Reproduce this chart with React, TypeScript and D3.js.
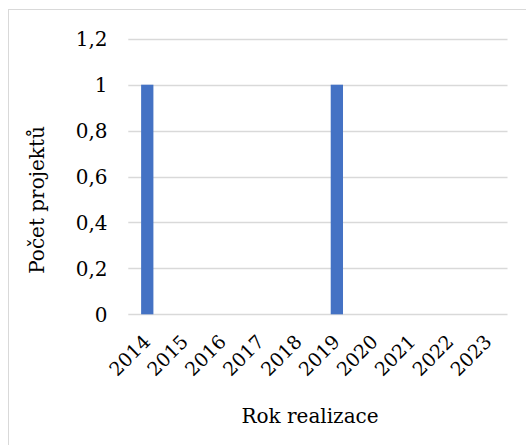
import React from "react";
import * as d3 from "d3";

const years = ["2014", "2015", "2016", "2017", "2018", "2019", "2020", "2021", "2022", "2023"];
const counts = [1, 0, 0, 0, 0, 1, 0, 0, 0, 0];
const yTicks = [0, 0.2, 0.4, 0.6, 0.8, 1, 1.2];
const yTitle = "Počet projektů";
const xTitle = "Rok realizace";

const W = 526;
const H = 445;
const plot = { left: 128.3, right: 507.5, top: 38.8, bottom: 314.3 };
const FONT = '"DejaVu Serif"';
const tickStyle: React.CSSProperties = { fontFamily: FONT, fontSize: "20px" };
const yearStyle: React.CSSProperties = { fontFamily: FONT, fontSize: "19px" };
const titleStyle: React.CSSProperties = { fontFamily: FONT, fontSize: "20px" };

export default function App() {
  const x = d3.scaleBand<string>().domain(years).range([plot.left, plot.right]).paddingInner(0.676).paddingOuter(0.338);
  const y = d3.scaleLinear().domain([0, 1.2]).range([plot.bottom, plot.top]);
  const fmt = (v: number) => d3.format(".1~f")(v).replace(".", ",");

  return (
    <svg width={W} height={H} style={{ position: "absolute", left: 0, top: 0, background: "#fff" }}>
      <rect x={0} y={0} width={W} height={H} fill="#fff" />
      <rect x={8.5} y={9.5} width={W + 20} height={H + 20} fill="#fff" stroke="#d9d9d9" strokeWidth={1} />
      {yTicks.map((t) => (
        <line key={"g" + t} x1={plot.left} x2={plot.right} y1={Math.round(y(t)) + 0.5} y2={Math.round(y(t)) + 0.5} stroke="#d9d9d9" strokeWidth={1.3} />
      ))}
      {yTicks.map((t) => (
        <text key={"t" + t} x={107.5} y={y(t)} dy="0.36em" textAnchor="end" style={tickStyle} fill="#000">
          {fmt(t)}
        </text>
      ))}
      {years.map((yr, i) => (
        <rect key={yr} x={x(yr)!} width={x.bandwidth()} y={y(counts[i])} height={y(0) - y(counts[i])} fill="#4472C4" />
      ))}
      {years.map((yr) => {
        const cx = (x(yr) as number) + x.bandwidth() / 2 - 0.5;
        const cy = plot.bottom + 24;
        return (
          <text key={"x" + yr} x={cx} y={cy} dy="0.35em" textAnchor="end" transform={`rotate(-45, ${cx}, ${cy})`} style={yearStyle} fill="#000">
            {yr}
          </text>
        );
      })}
      <text x={310} y={423} textAnchor="middle" style={titleStyle} fill="#000">
        {xTitle}
      </text>
      <text x={44} y={200} textAnchor="middle" transform="rotate(-90, 44, 200)" style={titleStyle} fill="#000">
        {yTitle}
      </text>
    </svg>
  );
}
